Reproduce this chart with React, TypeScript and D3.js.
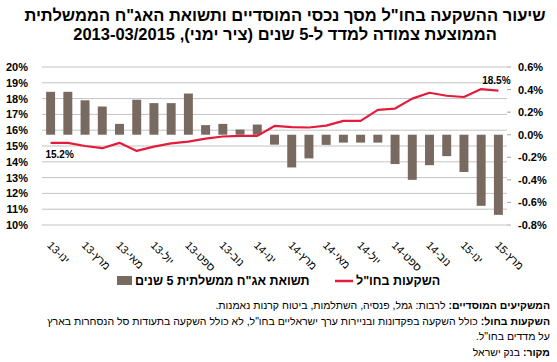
import * as d3 from 'd3'
import { FC } from 'react'

// months Jan 2013 - Mar 2015 (Hebrew short month + year)
const months: string[] = [
    'ינו-13', 'פבר-13', 'מרץ-13', 'אפר-13', 'מאי-13', 'יונ-13', 'יול-13', 'אוג-13', 'ספט-13', 'אוק-13', 'נוב-13', 'דצמ-13',
    'ינו-14', 'פבר-14', 'מרץ-14', 'אפר-14', 'מאי-14', 'יונ-14', 'יול-14', 'אוג-14', 'ספט-14', 'אוק-14', 'נוב-14', 'דצמ-14',
    'ינו-15', 'פבר-15', 'מרץ-15',
]

// share of institutional assets invested abroad (left axis, %)
const abroadShare: number[] = [
    15.2, 15.2, 15.0, 14.86, 15.2, 14.69, 14.96, 15.17, 15.28, 15.47, 15.6, 15.64, 15.64,
    16.27, 16.2, 16.17, 16.29, 16.59, 16.59, 17.29, 17.37, 18.0, 18.37, 18.18, 18.1, 18.6, 18.5,
]

// monthly return of 5y CPI-linked government bonds (right axis, %)
const bondReturn: number[] = [
    0.38, 0.38, 0.305, 0.25, 0.096, 0.31, 0.28, 0.28, 0.365, 0.085, 0.096, 0.046, 0.09,
    -0.088, -0.29, -0.21, -0.09, -0.07, -0.07, -0.07, -0.26, -0.40, -0.27, -0.19, -0.33, -0.63, -0.71,
]

const leftTicks: number[] = [10, 11, 12, 13, 14, 15, 16, 17, 18, 19, 20]
const rightTicks: number[] = [-0.8, -0.6, -0.4, -0.2, 0, 0.2, 0.4, 0.6]

const titleLines: string[] = [
    'שיעור ההשקעה בחו"ל מסך נכסי המוסדיים ותשואת האג"ח הממשלתית',
    'הממוצעת צמודה למדד ל-5 שנים (ציר ימני), 2013-03/2015',
]
const legendBars = 'תשואת אג"ח ממשלתית 5 שנים'
const legendLine = 'השקעות בחו"ל'

const notes: [string, string][] = [
    ['המשקיעים המוסדיים:', ' לרבות: גמל, פנסיה, השתלמות, ביטוח קרנות נאמנות.'],
    ['השקעות בחול:', ' כולל השקעה בפקדונות ובניירות ערך ישראליים בחו"ל, לא כולל השקעה בתעודות סל הנסחרות בארץ'],
    ['', 'על מדדים בחו"ל.'],
    ['מקור:', ' בנק ישראל'],
]

const font = '"Liberation Sans", Arial, sans-serif'
const brown = '#786a61'
const red = '#e41c3c'

const App: FC = () => {
    const dimensions = { width: 557, height: 362 }
    const plot = { left: 42, right: 507, top: 67, bottom: 225 }

    const x = d3.scaleBand()
        .domain(months)
        .range([plot.left, plot.right])
        .paddingInner(0.48)
        .paddingOuter(0.24)

    const yL = d3.scaleLinear().domain([10, 20]).range([plot.bottom, plot.top])
    const yR = d3.scaleLinear().domain([-0.8, 0.6]).range([plot.bottom, plot.top])

    const cx = (m: string) => (x(m) ?? 0) + x.bandwidth() / 2

    const line = d3.line<number>()
        .x((_, i) => cx(months[i]))
        .y(d => yL(d))

    const last = abroadShare.length - 1

    return (
        <svg
            width={dimensions.width}
            height={dimensions.height}
            style={{ position: 'absolute', left: 0, top: 0, background: '#fff' }}
            fontFamily={font}
        >
            {/* title */}
            {titleLines.map((t, i) => (
                <text key={i} x={285} y={21 + i * 19} textAnchor="middle" direction="rtl"
                    fontSize={16.5} fontWeight="bold">{t}</text>
            ))}

            {/* gridlines */}
            {leftTicks.map(t => (
                <line key={t} x1={plot.left} x2={plot.right} y1={yL(t)} y2={yL(t)} stroke="#c3c3c3" strokeWidth={1} />
            ))}

            {/* left axis labels */}
            {leftTicks.map(t => (
                <text key={t} x={28} y={yL(t) + 4} textAnchor="end" fontSize={11} fontWeight="bold">{t}%</text>
            ))}

            {/* right axis ticks + labels */}
            {rightTicks.map(t => (
                <g key={t}>
                    <line x1={plot.right} x2={plot.right + 4} y1={yR(t)} y2={yR(t)} stroke="#a6a6a6" />
                    <text x={518} y={yR(t) + 4} fontSize={11} fontWeight="bold">{t.toFixed(1)}%</text>
                </g>
            ))}

            {/* bars */}
            {bondReturn.map((v, i) => (
                <rect key={i}
                    x={x(months[i])}
                    y={Math.min(yR(v), yR(0))}
                    width={x.bandwidth()}
                    height={Math.abs(yR(v) - yR(0))}
                    fill={brown}
                />
            ))}

            {/* line */}
            <path d={line(abroadShare) ?? ''} fill="none" stroke={red} strokeWidth={2.2} strokeLinejoin="round" />

            {/* data labels */}
            <text x={cx(months[0]) + 9} y={yL(abroadShare[0]) + 15} textAnchor="middle" fontSize={10} fontWeight="bold">
                {abroadShare[0].toFixed(1)}%
            </text>
            <text x={cx(months[last]) - 2} y={yL(abroadShare[last]) - 7} textAnchor="middle" fontSize={10} fontWeight="bold">
                {abroadShare[last].toFixed(1)}%
            </text>

            {/* x axis labels, every second month */}
            {months.map((m, i) => i % 2 === 0 ? (
                <text key={m} transform={`translate(${cx(m) - 4},246) rotate(45)`} fontSize={11}>{m}</text>
            ) : null)}

            {/* legend */}
            <rect x={117} y={276} width={15} height={9} fill={brown} />
            <text x={135} y={285} fontSize={12.5} fontWeight="bold">{legendBars}</text>
            <line x1={335} x2={353} y1={281} y2={281} stroke={red} strokeWidth={2.5} />
            <text x={356} y={285} fontSize={12.5} fontWeight="bold">{legendLine}</text>

            {/* notes */}
            {notes.map(([b, r], i) => (
                <text key={i} x={550} y={309 + i * 15.5} direction="rtl" textAnchor="start" fontSize={10.5}>
                    {b && <tspan fontWeight="bold">{b}</tspan>}
                    <tspan>{r}</tspan>
                </text>
            ))}
        </svg>
    )
}

export default App
